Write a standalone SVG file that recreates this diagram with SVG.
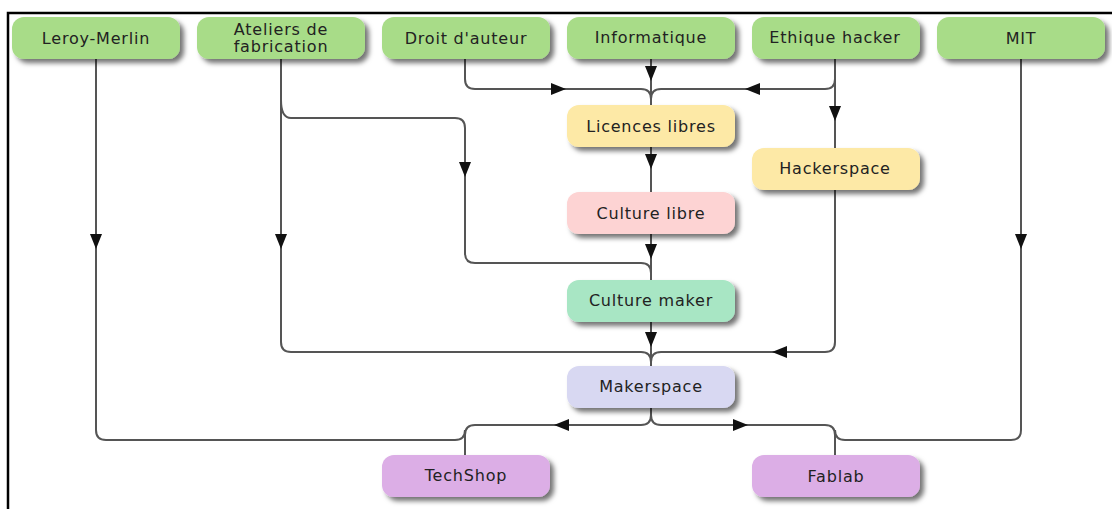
<svg xmlns="http://www.w3.org/2000/svg" width="1112" height="509" viewBox="0 0 1112 509">
<defs>
<filter id="sh" x="-10%" y="-20%" width="130%" height="160%">
<feDropShadow dx="4" dy="4" stdDeviation="2.5" flood-color="#000" flood-opacity="0.55"/>
</filter>
<marker id="ar" viewBox="0 0 15 12" refX="15" refY="6" markerWidth="15" markerHeight="12" markerUnits="userSpaceOnUse" orient="auto">
<path d="M0,0 L15,6 L0,12 z" fill="#111"/>
</marker>
<style>
.n rect{filter:url(#sh);}
.n text{font-family:"DejaVu Sans",sans-serif;font-size:16px;letter-spacing:0.8px;fill:#222;text-anchor:middle;dominant-baseline:central;}
.g{fill:#a8dc88}.y{fill:#fde9a6}.p{fill:#fdd3d3}.m{fill:#a8e6c4}.l{fill:#d8d8f2}.v{fill:#dcaee6}
#conn path{fill:none;stroke:#555;stroke-width:2;}
#conn path.a{stroke:none;}
</style>
</defs>
<rect width="1112" height="509" fill="#fff"/>
<path d="M8,509 V13 H1112" fill="none" stroke="#000" stroke-width="2.5"/>

<g id="conn">
<path d="M96,59 V430 Q96,440 106,440 H455 Q465,440 465,430"/>
<path d="M1021,59 V430 Q1021,440 1011,440 H845 Q835,440 835,430"/>
<path d="M651,408 V415 Q651,425 641,425 H475 Q465,425 465,435 V455"/>
<path d="M651,408 V415 Q651,425 661,425 H825 Q835,425 835,435 V455"/>
<path d="M465,59 V79 Q465,89 475,89 H641 Q651,89 651,99 V105"/>
<path d="M651,59 V105"/>
<path d="M835,59 V79 Q835,89 825,89 H661 Q651,89 651,99"/>
<path d="M835,59 V148"/>
<path d="M651,147 V192"/>
<path d="M651,234 V280"/>
<path d="M651,322 V366"/>
<path d="M281,59 V342 Q281,352 291,352 H641 Q651,352 651,362"/>
<path d="M281,100 Q281,118 291,118 H455 Q465,118 465,128 V253 Q465,263 475,263 H641 Q651,263 651,273 V280"/>
<path d="M835,190 V342 Q835,352 825,352 H661 Q651,352 651,362"/>
<path class="a" d="M96,230 L96,249" marker-end="url(#ar)"/>
<path class="a" d="M281,230 L281,249" marker-end="url(#ar)"/>
<path class="a" d="M1021,230 L1021,249" marker-end="url(#ar)"/>
<path class="a" d="M465,158 L465,177" marker-end="url(#ar)"/>
<path class="a" d="M651,62 L651,81" marker-end="url(#ar)"/>
<path class="a" d="M835,102 L835,121" marker-end="url(#ar)"/>
<path class="a" d="M651,150 L651,169" marker-end="url(#ar)"/>
<path class="a" d="M651,240 L651,259" marker-end="url(#ar)"/>
<path class="a" d="M651,328 L651,347" marker-end="url(#ar)"/>
<path class="a" d="M545,89 L566,89" marker-end="url(#ar)"/>
<path class="a" d="M765,89 L745,89" marker-end="url(#ar)"/>
<path class="a" d="M792,352 L772,352" marker-end="url(#ar)"/>
<path class="a" d="M575,425 L554,425" marker-end="url(#ar)"/>
<path class="a" d="M727,425 L748,425" marker-end="url(#ar)"/>
</g>

<g id="leroy" class="n"><rect class="g" x="12" y="17" width="168" height="42" rx="12"/><text x="96" y="38">Leroy-Merlin</text></g>
<g id="ateliers" class="n"><rect class="g" x="197" y="17" width="168" height="42" rx="12"/><text x="281" y="29">Ateliers de</text><text x="281" y="46">fabrication</text></g>
<g id="droit" class="n"><rect class="g" x="382" y="17" width="168" height="42" rx="12"/><text x="466" y="38">Droit d'auteur</text></g>
<g id="informatique" class="n"><rect class="g" x="567" y="17" width="168" height="42" rx="12"/><text x="651" y="37">Informatique</text></g>
<g id="ethique" class="n"><rect class="g" x="752" y="17" width="168" height="42" rx="12"/><text x="835" y="37">Ethique hacker</text></g>
<g id="mit" class="n"><rect class="g" x="937" y="17" width="168" height="42" rx="12"/><text x="1021" y="38">MIT</text></g>
<g id="licences" class="n"><rect class="y" x="567" y="105" width="168" height="42" rx="12"/><text x="651" y="126">Licences libres</text></g>
<g id="hackerspace" class="n"><rect class="y" x="752" y="148" width="168" height="42" rx="12"/><text x="835" y="168">Hackerspace</text></g>
<g id="culturelibre" class="n"><rect class="p" x="567" y="192" width="168" height="42" rx="12"/><text x="651" y="213">Culture libre</text></g>
<g id="culturemaker" class="n"><rect class="m" x="567" y="280" width="168" height="42" rx="12"/><text x="651" y="300">Culture maker</text></g>
<g id="makerspace" class="n"><rect class="l" x="567" y="366" width="168" height="42" rx="12"/><text x="651" y="386">Makerspace</text></g>
<g id="techshop" class="n"><rect class="v" x="382" y="455" width="168" height="42" rx="12"/><text x="466" y="475">TechShop</text></g>
<g id="fablab" class="n"><rect class="v" x="752" y="455" width="168" height="42" rx="12"/><text x="836" y="476">Fablab</text></g>
</svg>
